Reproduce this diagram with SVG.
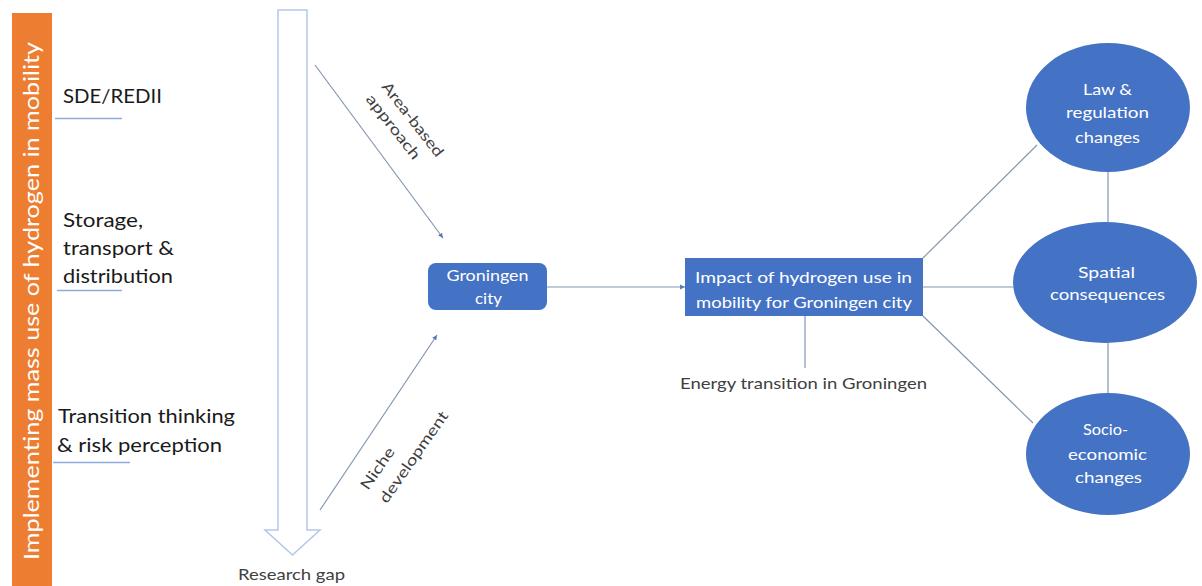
<svg xmlns="http://www.w3.org/2000/svg" width="1202" height="586" viewBox="0 0 1202 586">
<defs>
<marker id="ah" markerWidth="7" markerHeight="7" refX="5" refY="3" orient="auto" markerUnits="userSpaceOnUse">
<path d="M0,0.6 L5,3 L0,5.4 z" fill="#5b7bb5"/>
</marker>
<style>
.t{font-family:Lato,"Liberation Sans",Arial,sans-serif;}
.lbl{font-size:19px;fill:#1a1a1a;}
.w{fill:#ffffff;font-size:16px;text-anchor:middle;}
.g{fill:#404040;font-size:15px;}
.node{fill:#4472C4;}
.conn{stroke:#8497b0;stroke-width:1.2;fill:none;}
.ul{stroke:#8faadc;stroke-width:1.3;}
</style>
</defs>
<rect width="1202" height="586" fill="#ffffff"/>

<g id="bar">
<rect x="12" y="13" width="40" height="573" fill="#ED7D31"/>
<text class="t" transform="translate(39,560) rotate(-90)" font-size="21" fill="#ffffff" textLength="518" lengthAdjust="spacingAndGlyphs">Implementing mass use of hydrogen in mobility</text>
</g>

<g id="sde">
<text class="t lbl" x="63" y="103" textLength="99" lengthAdjust="spacingAndGlyphs">SDE/REDII</text>
<line class="ul" x1="55" y1="118.5" x2="122" y2="118.5"/>
</g>
<g id="storage">
<text class="t lbl" x="63" y="227" textLength="80" lengthAdjust="spacingAndGlyphs">Storage,</text>
<text class="t lbl" x="63" y="255" textLength="111" lengthAdjust="spacingAndGlyphs">transport &amp;</text>
<text class="t lbl" x="63" y="283" textLength="110" lengthAdjust="spacingAndGlyphs">distribution</text>
<line class="ul" x1="57" y1="290.5" x2="122" y2="290.5"/>
</g>
<g id="transition">
<text class="t lbl" x="58" y="423" textLength="177" lengthAdjust="spacingAndGlyphs">Transition thinking</text>
<text class="t lbl" x="57" y="452" textLength="165" lengthAdjust="spacingAndGlyphs">&amp; risk perception</text>
<line class="ul" x1="53" y1="462.5" x2="130" y2="462.5"/>
</g>

<g id="research-gap">
<path d="M278,10 L307,10 L307,530 L320,530 L292.5,555 L265,530 L278,530 Z" fill="#ffffff" stroke="#b4c7e7" stroke-width="1.5"/>
<text class="t g" x="238" y="580" textLength="107" lengthAdjust="spacingAndGlyphs">Research gap</text>
</g>

<g id="connectors">
<line class="conn" x1="315" y1="65" x2="443" y2="238" marker-end="url(#ah)"/>
<line class="conn" x1="320" y1="510" x2="437" y2="335" marker-end="url(#ah)"/>
<line class="conn" x1="547" y1="287" x2="685" y2="287" marker-end="url(#ah)"/>
<line class="conn" x1="805" y1="316" x2="805" y2="368"/>
<line class="conn" x1="923" y1="258" x2="1037" y2="145"/>
<line class="conn" x1="923" y1="287" x2="1013" y2="287"/>
<line class="conn" x1="923" y1="316" x2="1033" y2="423"/>
<line class="conn" x1="1108" y1="172" x2="1108" y2="222"/>
<line class="conn" x1="1108" y1="342" x2="1108" y2="393"/>
<g transform="translate(381,87) rotate(52)">
<text class="t g" x="0" y="0" textLength="90" lengthAdjust="spacingAndGlyphs">Area-based</text>
<text class="t g" x="0" y="20" textLength="78" lengthAdjust="spacingAndGlyphs">approach</text>
</g>
<g transform="translate(368,491) rotate(-55)">
<text class="t g" x="0" y="0" textLength="48" lengthAdjust="spacingAndGlyphs">Niche</text>
<text class="t g" x="0" y="23" textLength="108" lengthAdjust="spacingAndGlyphs">development</text>
</g>
</g>

<g id="groningen">
<rect class="node" x="428" y="263" width="119" height="47" rx="8"/>
<text class="t w" x="487.5" y="281" textLength="82" lengthAdjust="spacingAndGlyphs">Groningen</text>
<text class="t w" x="488.5" y="304" textLength="27" lengthAdjust="spacingAndGlyphs">city</text>
</g>

<g id="impact">
<rect class="node" x="685" y="258" width="238" height="58"/>
<text class="t w" x="803.5" y="283" textLength="217" lengthAdjust="spacingAndGlyphs">Impact of hydrogen use in</text>
<text class="t w" x="804" y="308" textLength="216" lengthAdjust="spacingAndGlyphs">mobility for Groningen city</text>
</g>

<g id="energy">
<text class="t g" x="680" y="389" textLength="247" lengthAdjust="spacingAndGlyphs">Energy transition in Groningen</text>
</g>

<g id="law">
<ellipse class="node" cx="1108" cy="107.5" rx="82" ry="64.5"/>
<text class="t w" x="1107.5" y="95" textLength="49" lengthAdjust="spacingAndGlyphs">Law &amp;</text>
<text class="t w" x="1107.5" y="118" textLength="83" lengthAdjust="spacingAndGlyphs">regulation</text>
<text class="t w" x="1107.5" y="143" textLength="65" lengthAdjust="spacingAndGlyphs">changes</text>
</g>

<g id="spatial">
<ellipse class="node" cx="1105" cy="282.5" rx="92" ry="60.5"/>
<text class="t w" x="1106.5" y="278" textLength="57" lengthAdjust="spacingAndGlyphs">Spatial</text>
<text class="t w" x="1107.5" y="300" textLength="115" lengthAdjust="spacingAndGlyphs">consequences</text>
</g>

<g id="socio">
<ellipse class="node" cx="1108" cy="454" rx="82" ry="61"/>
<text class="t w" x="1105.5" y="435" textLength="45" lengthAdjust="spacingAndGlyphs">Socio-</text>
<text class="t w" x="1107.5" y="460" textLength="79" lengthAdjust="spacingAndGlyphs">economic</text>
<text class="t w" x="1108.5" y="483" textLength="67" lengthAdjust="spacingAndGlyphs">changes</text>
</g>
</svg>
